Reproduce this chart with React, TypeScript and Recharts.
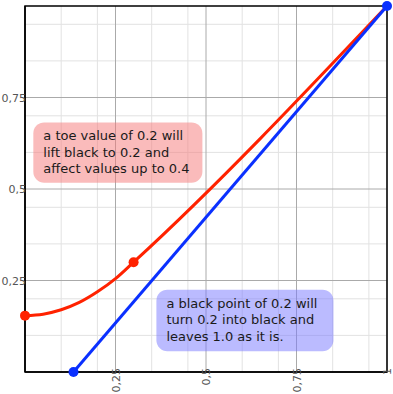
import React from 'react';
import {
  LineChart,
  Line,
  XAxis,
  YAxis,
  CartesianGrid,
  ReferenceArea,
} from 'recharts';

// toe curve: lifted black, bends into the straight part at 0.3
const toeX = [0, 0.05, 0.1, 0.15, 0.2, 0.25, 0.3, 1];
const toeY = [0.154, 0.158, 0.17, 0.19, 0.219, 0.255, 0.3, 1];

// black point: straight line from the black point to white
const blackX = [0.134, 1];
const blackY = [0, 1];

const majorTicks = [0.25, 0.5, 0.75, 1];
const minorTicks = [
  0.05, 0.1, 0.15, 0.2, 0.3, 0.35, 0.4, 0.45, 0.55, 0.6, 0.65, 0.7, 0.8, 0.85, 0.9, 0.95,
];
const yTicks = [0.25, 0.5, 0.75];

const toeNote = ['a toe value of 0.2 will', 'lift black to 0.2 and', 'affect values up to 0.4'];
const blackNote = ['a black point of 0.2 will', 'turn 0.2 into black and', 'leaves 1.0 as it is.'];

const toeData = toeX.map((x, i) => ({ x, y: toeY[i] }));
const blackData = blackX.map((x, i) => ({ x, y: blackY[i] }));

const W = 393;
const H = 394;
const FONT = '"DejaVu Sans", Verdana, sans-serif';
const tickStyle = { fontSize: '11px', fontFamily: FONT };

const XTick = (props: any) => {
  const { x, y, payload } = props;
  const ax = x + 4;
  const ay = y - 6;
  return (
    <text
      x={ax}
      y={ay}
      transform={`rotate(-90, ${ax}, ${ay})`}
      textAnchor="end"
      style={tickStyle}
      fill="#555"
    >
      {String(payload.value).replace('.', ',')}
    </text>
  );
};

const YTick = (props: any) => {
  const { y, payload } = props;
  return (
    <text x={26} y={y + 4} textAnchor="end" style={tickStyle} fill="#555">
      {String(payload.value).replace('.', ',')}
    </text>
  );
};

const noteShape = (lines: string[], fill: string) => (props: any) => {
  const { x, y, width, height } = props;
  return (
    <g>
      <rect x={x} y={y} width={width} height={height} rx={11} ry={11} fill={fill} fillOpacity={0.5} />
      {lines.map((t, i) => (
        <text key={i} x={x + 10} y={y + 18 + i * 16.5} fontSize={13} fontFamily={FONT} fill="#1a1a1a">
          {t}
        </text>
      ))}
    </g>
  );
};

export default function App() {
  return (
    <div style={{ position: 'absolute', left: 0, top: 0, width: W, height: H, background: '#fff' }}>
      <LineChart width={W} height={H} margin={{ top: 6, right: 6, bottom: 0, left: 0 }}>
        <CartesianGrid
          stroke="#e2e2e2"
          verticalValues={minorTicks}
          horizontalValues={minorTicks}
        />
        <CartesianGrid stroke="#aaaaaa" verticalValues={majorTicks} horizontalValues={yTicks} />
        <XAxis
          type="number"
          dataKey="x"
          domain={[0, 1]}
          ticks={majorTicks}
          tick={<XTick />}
          tickLine={false}
          tickSize={0}
          height={22}
          axisLine={{ stroke: '#000', strokeWidth: 1.5 }}
        />
        <YAxis
          type="number"
          dataKey="y"
          domain={[0, 1]}
          ticks={yTicks}
          tick={<YTick />}
          tickLine={false}
          tickSize={0}
          width={25}
          axisLine={{ stroke: '#000', strokeWidth: 1.5 }}
        />
        <ReferenceArea
          x1={0}
          x2={1}
          y1={0}
          y2={1}
          fill="none"
          stroke="#000"
          strokeWidth={1.5}
          fillOpacity={0}
        />
        <ReferenceArea
          x1={0.023}
          x2={0.49}
          y1={0.517}
          y2={0.682}
          shape={noteShape(toeNote, '#f57878')}
        />
        <ReferenceArea
          x1={0.363}
          x2={0.852}
          y1={0.057}
          y2={0.225}
          shape={noteShape(blackNote, '#7878ff')}
        />
        <Line
          data={toeData}
          dataKey="y"
          type="monotone"
          stroke="#ff2200"
          strokeWidth={3}
          dot={(p: any) =>
            p.index === 0 || p.index === 6 ? (
              <circle key={p.index} cx={p.cx} cy={p.cy} r={5} fill="#ff2200" />
            ) : (
              <g key={p.index} />
            )
          }
          isAnimationActive={false}
        />
        <Line
          data={blackData}
          dataKey="y"
          type="linear"
          stroke="#0a30ff"
          strokeWidth={3}
          dot={{ r: 5, fill: '#0a30ff', stroke: 'none' }}
          isAnimationActive={false}
        />
      </LineChart>
    </div>
  );
}
